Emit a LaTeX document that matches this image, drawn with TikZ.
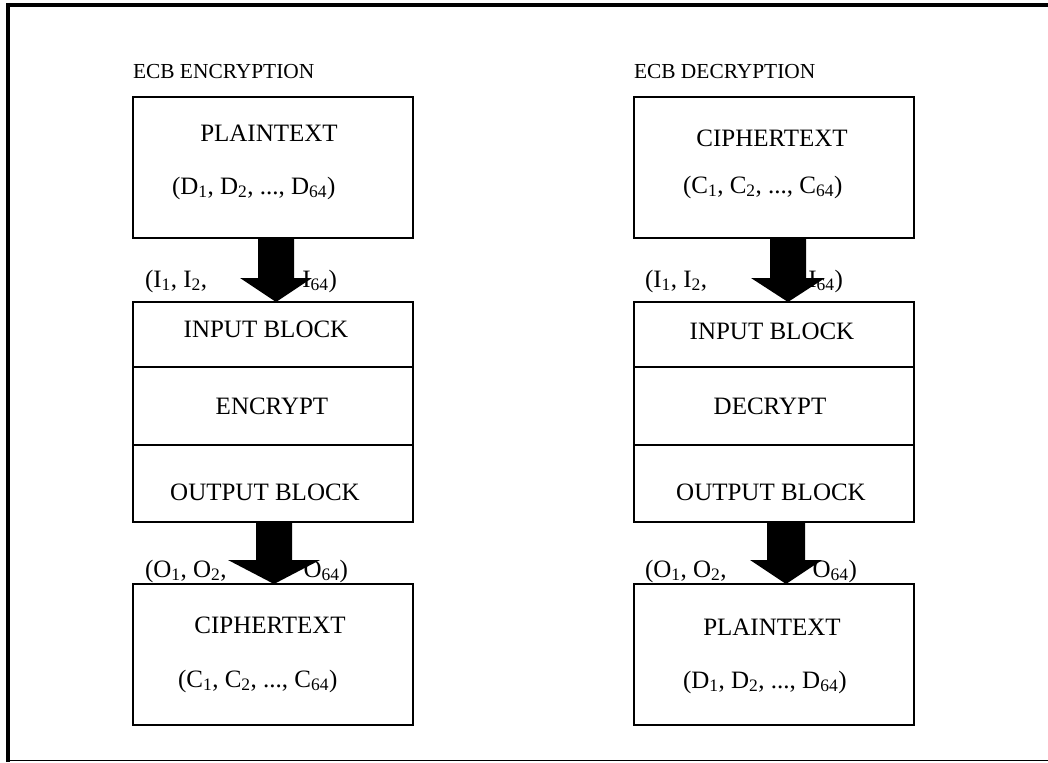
\documentclass[tikz,border=0pt]{standalone}
\usepackage{fontspec}
\setmainfont{Liberation Serif}
\usetikzlibrary{calc}
\tikzset{
  box/.style={draw=black, line width=1.2pt, minimum width=280pt, inner sep=0pt, outer sep=0pt},
  txt/.style={inner sep=0pt, outer sep=0pt, font=\fontsize{25}{30}\selectfont},
  ttl/.style={inner sep=0pt, outer sep=0pt, font=\fontsize{21.4}{26}\selectfont},
}
\newcommand{\blockarrow}[4]{% from, to, half shaft, half head
  \fill[black] let \p1=(#1), \p2=(#2) in
    (\x1-#3,\y1) -- (\x1+#3,\y1) -- (\x1+#3,\y2+24pt) -- (\x1+#4,\y2+24pt) --
    (\x1,\y2) -- (\x1-#4,\y2+24pt) -- (\x1-#3,\y2+24pt) -- cycle;}
\begin{document}
\begin{tikzpicture}[x=1pt,y=-1pt]
\useasboundingbox (0,0) rectangle (1048,762);
% outer frame
\draw[line width=4pt] (6,5) -- (1048,5);
\draw[line width=4pt] (8,3) -- (8,762);
\draw[line width=1.5pt] (6,760.5) -- (1048,760.5);

% ---------- left column ----------
\node[ttl, anchor=west] (t1) at (133,72) {ECB ENCRYPTION};
\node[box, minimum height=141pt] (ptA) at (273,167.5) {};
\node[txt] (ptAt) at (269,133) {PLAINTEXT};
\node[txt, anchor=west] (ptAd) at (172,188) {(D\textsubscript{1}, D\textsubscript{2}, ..., D\textsubscript{64})};
\node[box, minimum height=65pt] (inA) at (273,334.5) {};
\node[box, minimum height=78pt] (enA) at (273,406) {};
\node[box, minimum height=77pt] (ouA) at (273,483.5) {};
\node[txt] at (266,329) {INPUT BLOCK};
\node[txt] at (272,406) {ENCRYPT};
\node[txt] at (265,492) {OUTPUT BLOCK};
\node[box, minimum height=141pt] (ctA) at (273,654.5) {};
\node[txt] at (270,625) {CIPHERTEXT};
\node[txt, anchor=west] at (178,681) {(C\textsubscript{1}, C\textsubscript{2}, ..., C\textsubscript{64})};
% labels
\node[txt, anchor=west] (iA1) at (145,281) {(I\textsubscript{1}, I\textsubscript{2},};
\node[txt, anchor=east] (iA2) at (337,281) {I\textsubscript{64})};
\node[txt, anchor=west] (oA1) at (145,571) {(O\textsubscript{1}, O\textsubscript{2},};
\node[txt, anchor=east] (oA2) at (348,571) {O\textsubscript{64})};
% arrows
\coordinate (a1s) at ($(ptA.south)+(3,0)$);
\coordinate (a1e) at (a1s |- inA.north);
\blockarrow{a1s}{a1e}{18pt}{36pt}
\coordinate (a2s) at ($(ouA.south)+(1,0)$);
\coordinate (a2e) at (a2s |- ctA.north);
\blockarrow{a2s}{a2e}{18pt}{46pt}

% ---------- right column ----------
\node[ttl, anchor=west] (t2) at (634,72) {ECB DECRYPTION};
\node[box, minimum height=141pt] (ctB) at (774,167.5) {};
\node[txt] at (772,138) {CIPHERTEXT};
\node[txt, anchor=west] at (683,187) {(C\textsubscript{1}, C\textsubscript{2}, ..., C\textsubscript{64})};
\node[box, minimum height=65pt] (inB) at (774,334.5) {};
\node[box, minimum height=78pt] (deB) at (774,406) {};
\node[box, minimum height=77pt] (ouB) at (774,483.5) {};
\node[txt] at (772,331) {INPUT BLOCK};
\node[txt] at (770,406) {DECRYPT};
\node[txt] at (771,492) {OUTPUT BLOCK};
\node[box, minimum height=141pt] (ptB) at (774,654.5) {};
\node[txt] at (772,627) {PLAINTEXT};
\node[txt, anchor=west] at (683,682) {(D\textsubscript{1}, D\textsubscript{2}, ..., D\textsubscript{64})};
% labels
\node[txt, anchor=west] (iB1) at (645,281) {(I\textsubscript{1}, I\textsubscript{2},};
\node[txt, anchor=east] (iB2) at (843,281) {I\textsubscript{64})};
\node[txt, anchor=west] (oB1) at (645,571) {(O\textsubscript{1}, O\textsubscript{2},};
\node[txt, anchor=east] (oB2) at (857,571) {O\textsubscript{64})};
% arrows
\coordinate (b1s) at ($(ctB.south)+(14,0)$);
\coordinate (b1e) at (b1s |- inB.north);
\blockarrow{b1s}{b1e}{18pt}{37pt}
\coordinate (b2s) at ($(ouB.south)+(12,0)$);
\coordinate (b2e) at (b2s |- ptB.north);
\blockarrow{b2s}{b2e}{19pt}{36pt}
\end{tikzpicture}
\end{document}
